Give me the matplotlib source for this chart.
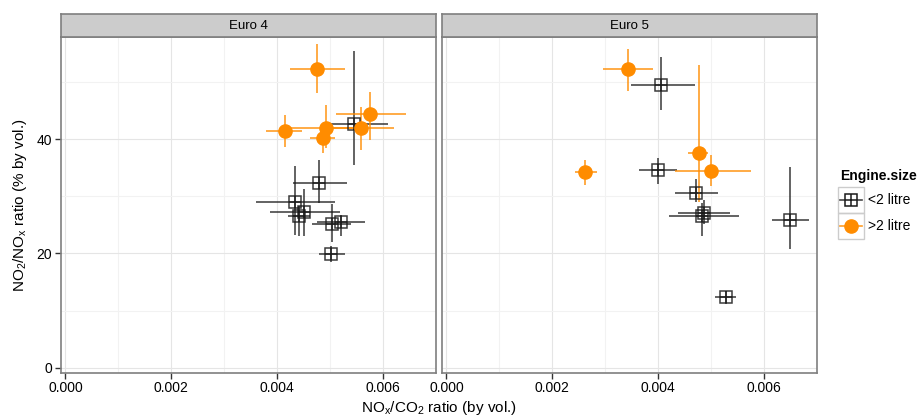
import matplotlib
matplotlib.use('Agg')
import matplotlib.pyplot as plt
import numpy as np
from matplotlib.lines import Line2D
from matplotlib.patches import Rectangle

plt.rcParams['font.family'] = ['Liberation Sans', 'DejaVu Sans']

# ---- data ----
panels = ['Euro 4', 'Euro 5']
sizes = ['<2 litre', '>2 litre']

# Euro 4, <2 litre
e4_small_x = [0.00545, 0.00479, 0.00434, 0.00451, 0.00442, 0.00520, 0.00504, 0.00501]
e4_small_y = [42.7, 32.4, 29.1, 27.2, 26.5, 25.6, 25.2, 19.9]
e4_small_xmin = [0.00487, 0.00430, 0.00360, 0.00386, 0.00420, 0.00476, 0.00465, 0.00479]
e4_small_xmax = [0.00609, 0.00531, 0.00510, 0.00518, 0.00462, 0.00566, 0.00540, 0.00528]
e4_small_ymin = [35.5, 28.9, 23.3, 23.0, 23.0, 23.1, 22.1, 18.5]
e4_small_ymax = [55.5, 36.4, 35.4, 31.3, 28.3, 26.8, 28.6, 21.3]

# Euro 4, >2 litre
e4_large_x = [0.00476, 0.00415, 0.00493, 0.00559, 0.00575, 0.00486]
e4_large_y = [52.3, 41.5, 42.0, 42.0, 44.4, 40.2]
e4_large_xmin = [0.00424, 0.00379, 0.00425, 0.00500, 0.00511, 0.00462]
e4_large_xmax = [0.00528, 0.00446, 0.00545, 0.00620, 0.00644, 0.00509]
e4_large_ymin = [48.1, 38.7, 38.5, 38.2, 39.9, 37.6]
e4_large_ymax = [56.7, 44.3, 46.0, 45.7, 48.3, 42.4]

# Euro 5, <2 litre
e5_small_x = [0.004045, 0.003989, 0.004713, 0.004864, 0.004820, 0.006490, 0.005274]
e5_small_y = [49.5, 34.7, 30.6, 27.1, 26.5, 25.9, 12.3]
e5_small_xmin = [0.003478, 0.003640, 0.004316, 0.004378, 0.004208, 0.006144, 0.005070]
e5_small_xmax = [0.004694, 0.004350, 0.005134, 0.005355, 0.005525, 0.006854, 0.005470]
e5_small_ymin = [45.2, 32.1, 29.1, 25.1, 23.1, 20.8, 11.1]
e5_small_ymax = [54.4, 36.7, 33.0, 29.4, 28.9, 35.1, 13.4]

# Euro 5, >2 litre
e5_large_x = [0.003433, 0.004764, 0.004991, 0.002614]
e5_large_y = [52.3, 37.6, 34.4, 34.2]
e5_large_xmin = [0.002960, 0.004567, 0.004316, 0.002425]
e5_large_xmax = [0.003910, 0.004945, 0.005747, 0.002836]
e5_large_ymin = [48.4, 29.1, 31.8, 32.0]
e5_large_ymax = [55.8, 53.0, 37.3, 36.4]

x_ticks = [0.000, 0.002, 0.004, 0.006]
y_ticks = [0, 20, 40]

ORANGE = '#FF8C00'
BLACK = '#1a1a1a'

groups = {
    ('Euro 4', '<2 litre'): (e4_small_x, e4_small_y, e4_small_xmin, e4_small_xmax, e4_small_ymin, e4_small_ymax),
    ('Euro 4', '>2 litre'): (e4_large_x, e4_large_y, e4_large_xmin, e4_large_xmax, e4_large_ymin, e4_large_ymax),
    ('Euro 5', '<2 litre'): (e5_small_x, e5_small_y, e5_small_xmin, e5_small_xmax, e5_small_ymin, e5_small_ymax),
    ('Euro 5', '>2 litre'): (e5_large_x, e5_large_y, e5_large_xmin, e5_large_xmax, e5_large_ymin, e5_large_ymax),
}

W, H = 920, 418
fig = plt.figure(figsize=(W / 100, H / 100), dpi=100)

panel_px = [(60.7, 436.0), (441.7, 817.0)]
top_px, bot_px, strip_top_px = 37.3, 372.7, 14.0


def draw_group(ax, key):
    x, y, xmin, xmax, ymin, ymax = [np.asarray(v) for v in groups[key]]
    if key[1] == '<2 litre':
        ax.errorbar(x, y, xerr=[x - xmin, xmax - x], yerr=[y - ymin, ymax - y],
                    fmt='none', ecolor=BLACK, elinewidth=1.2, alpha=0.8, capsize=0, zorder=3)
        ax.plot(x, y, 's', ms=8.5, mfc='none', mec=BLACK, mew=1.1, alpha=0.85, zorder=4)
        ax.plot(x, y, '+', ms=8.5, mec=BLACK, mew=1.1, alpha=0.85, zorder=4)
    else:
        ax.errorbar(x, y, xerr=[x - xmin, xmax - x], yerr=[y - ymin, ymax - y],
                    fmt='none', ecolor=ORANGE, elinewidth=1.2, alpha=0.85, capsize=0, zorder=3)
        ax.plot(x, y, 'o', ms=9.5, color=ORANGE, mec=ORANGE, zorder=5)


for i, panel in enumerate(panels):
    l, r = panel_px[i]
    ax = fig.add_axes([l / W, 1 - bot_px / H, (r - l) / W, (bot_px - top_px) / H])
    ax.set_xlim(-0.00009, 0.0070)
    ax.set_ylim(-0.9, 57.9)
    ax.set_xticks(x_ticks)
    ax.set_xticks([0.001, 0.003, 0.005], minor=True)
    ax.set_xticklabels(['%.3f' % v for v in x_ticks])
    ax.set_yticks(y_ticks)
    ax.set_yticks([10, 30, 50], minor=True)
    ax.grid(True, which='major', color='#E5E5E5', lw=0.8)
    ax.grid(True, which='minor', color='#F2F2F2', lw=0.8)
    ax.set_axisbelow(True)
    for s in ax.spines.values():
        s.set_color('#7F7F7F')
        s.set_linewidth(1.2)
    ax.tick_params(which='major', length=4, width=1, color='#333333',
                   labelsize=10, labelcolor='black', pad=2)
    ax.tick_params(which='minor', length=0)
    if i > 0:
        ax.tick_params(axis='y', labelleft=False, length=0)
    for size in sizes:
        draw_group(ax, (panel, size))

    # facet strip
    sax = fig.add_axes([l / W, 1 - top_px / H, (r - l) / W, (top_px - strip_top_px) / H])
    sax.set_facecolor('#CCCCCC')
    sax.set_xticks([])
    sax.set_yticks([])
    for s in sax.spines.values():
        s.set_color('#7F7F7F')
        s.set_linewidth(1.2)
    sax.text(0.5, 0.5, panel, ha='center', va='center', fontsize=9.5, transform=sax.transAxes)

# axis labels
fig.text(439 / W, 1 - 408 / H, r'NO$_\mathregular{x}$/CO$_\mathregular{2}$ ratio (by vol.)',
         ha='center', va='center', fontsize=11)
fig.text(20 / W, 1 - 205 / H, r'NO$_\mathregular{2}$/NO$_\mathregular{x}$ ratio (% by vol.)',
         ha='center', va='center', rotation=90, fontsize=11)

# legend (ggplot style, keys in grey boxes)
fig.text(840 / W, 1 - 176 / H, 'Engine.size', ha='left', va='center',
         fontsize=10, fontweight='bold')
key_rows = [(187.0, '<2 litre'), (213.0, '>2 litre')]
for ytop, lab in key_rows:
    fig.patches.append(Rectangle((838 / W, 1 - (ytop + 26) / H), 26 / W, 26 / H,
                                 transform=fig.transFigure, fill=False,
                                 edgecolor='#CCCCCC', lw=1))
    yc = 1 - (ytop + 13) / H
    xc = 851 / W
    if lab == '<2 litre':
        fig.lines.append(Line2D([840 / W, 862 / W], [yc, yc], transform=fig.transFigure,
                                color=BLACK, lw=1.2, alpha=0.8))
        fig.lines.append(Line2D([xc], [yc], transform=fig.transFigure, marker='s', ms=8.5,
                                mfc='white', mec=BLACK, mew=1.1, ls='none'))
        fig.lines.append(Line2D([xc], [yc], transform=fig.transFigure, marker='+', ms=8.5,
                                mec=BLACK, mew=1.1, ls='none'))
    else:
        fig.lines.append(Line2D([840 / W, 862 / W], [yc, yc], transform=fig.transFigure,
                                color=ORANGE, lw=1.2, alpha=0.85))
        fig.lines.append(Line2D([xc], [yc], transform=fig.transFigure, marker='o', ms=9.5,
                                color=ORANGE, ls='none'))
    fig.text(868 / W, yc, lab, ha='left', va='center', fontsize=10)

fig.savefig('out.png', dpi=100)
